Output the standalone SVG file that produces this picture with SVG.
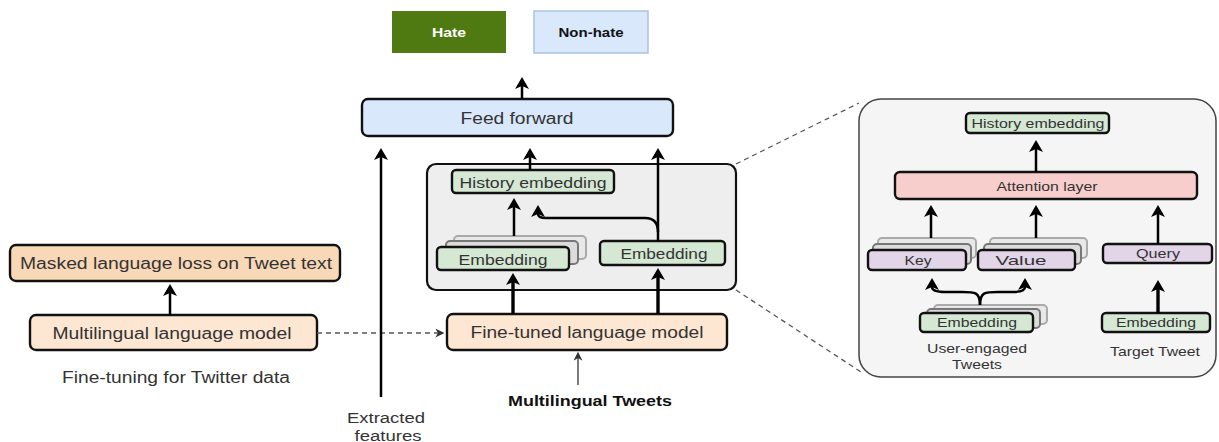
<svg xmlns="http://www.w3.org/2000/svg" width="1219" height="442" viewBox="0 0 1219 442">
  <style>
    text { font-family: "Liberation Sans", Arial, sans-serif; fill: #333; dominant-baseline: central; text-anchor: middle; }
    .box { stroke: #111; stroke-width: 2.4; }
    .peach { fill: #fde6d2; }
    .peach2 { fill: #f9d8b8; }
    .blue { fill: #dae8fc; }
    .green { fill: #d5e8d4; }
    .pink { fill: #f8cecc; }
    .purple { fill: #e1d5e7; }
    .back1 { fill: #dcdcdc; stroke: #777; stroke-width: 2; }
    .back2 { fill: #e8e8e8; stroke: #aaa; stroke-width: 2; }
    .arrow { fill: none; stroke: #000; stroke-width: 2.5; marker-end: url(#head); }
    .thick { stroke-width: 3.4; }
    .thin { fill: none; stroke: #333; stroke-width: 1.3; marker-end: url(#headSmall); }
    .dash { fill: none; stroke: #555; stroke-width: 1.3; stroke-dasharray: 5 4; }
    .lbl { font-size: 16px; }
    .mid { font-size: 15px; }
    .small { font-size: 13.5px; }
  </style>
  <defs>
    <marker id="head" viewBox="0 0 12 14" refX="3" refY="7" markerWidth="12" markerHeight="14" markerUnits="userSpaceOnUse" orient="auto">
      <path d="M0,0 L12,7 L0,14 L3,7 z" fill="#000"/>
    </marker>
    <marker id="headSmall" viewBox="0 0 10 10" refX="3" refY="5" markerWidth="9" markerHeight="9" markerUnits="userSpaceOnUse" orient="auto">
      <path d="M0,0 L10,5 L0,10 L3,5 z" fill="#333"/>
    </marker>
  </defs>

  <!-- output classes -->
  <g id="hate">
    <rect x="392" y="11" width="114" height="42" fill="#4f7a12"/>
    <text x="449" y="32" font-size="13.3" font-weight="bold" style="fill:#fff" textLength="34" lengthAdjust="spacingAndGlyphs">Hate</text>
  </g>
  <g id="non-hate">
    <rect x="534" y="11" width="114" height="42" fill="#dae8fc" stroke="#a9c3e3" stroke-width="1.5"/>
    <text x="591" y="32" font-size="13" font-weight="bold" style="fill:#111" textLength="65" lengthAdjust="spacingAndGlyphs">Non-hate</text>
  </g>

  <g id="feed-forward">
    <rect class="box blue" x="362" y="99" width="311" height="37" rx="6"/>
    <text class="lbl" x="517" y="118" textLength="113" lengthAdjust="spacingAndGlyphs">Feed forward</text>
  </g>

  <!-- user history encoder -->
  <g id="history-encoder">
    <rect x="427" y="164" width="309" height="126" rx="9" fill="#eeeeee" stroke="#111" stroke-width="2.2"/>
  </g>
  <g id="history-embedding">
    <rect class="box green" x="452" y="170" width="162" height="23" rx="4"/>
    <text class="mid" x="533" y="182" textLength="147" lengthAdjust="spacingAndGlyphs">History embedding</text>
  </g>
  <g id="history-tweet-embedding">
    <rect class="back2" x="454" y="236" width="132" height="23" rx="4"/>
    <rect class="back1" x="446" y="241" width="132" height="23" rx="4"/>
    <rect class="box green" x="437" y="247" width="132" height="23" rx="4"/>
    <text class="mid" x="503" y="259" textLength="89" lengthAdjust="spacingAndGlyphs">Embedding</text>
  </g>
  <g id="tweet-embedding">
    <rect class="box green" x="600" y="241" width="125" height="24" rx="4"/>
    <text class="mid" x="664" y="253.5" textLength="87" lengthAdjust="spacingAndGlyphs">Embedding</text>
  </g>

  <!-- language model fine-tuning -->
  <g id="masked-loss">
    <rect class="box peach2" x="10" y="245" width="330" height="36" rx="6"/>
    <text class="lbl" x="176" y="263" textLength="312" lengthAdjust="spacingAndGlyphs">Masked language loss on Tweet text</text>
  </g>
  <g id="multilingual-model">
    <rect class="box peach" x="30" y="315" width="287" height="35" rx="6"/>
    <text class="lbl" x="172" y="333" textLength="239" lengthAdjust="spacingAndGlyphs">Multilingual language model</text>
  </g>
  <text class="lbl" x="176" y="377" textLength="228" lengthAdjust="spacingAndGlyphs">Fine-tuning for Twitter data</text>

  <g id="fine-tuned-model">
    <rect class="box peach" x="447" y="314" width="280" height="36" rx="6"/>
    <text class="lbl" x="587" y="332" textLength="233" lengthAdjust="spacingAndGlyphs">Fine-tuned language model</text>
  </g>

  <g id="labels">
    <text x="386" y="417" font-size="15.5" textLength="78" lengthAdjust="spacingAndGlyphs">Extracted</text>
    <text x="388" y="435" font-size="15.5" textLength="67" lengthAdjust="spacingAndGlyphs">features</text>
    <text x="590" y="400" font-size="15" font-weight="bold" style="fill:#111" textLength="164" lengthAdjust="spacingAndGlyphs">Multilingual Tweets</text>
  </g>

  <!-- attention detail -->
  <g id="attention-panel">
    <rect x="859" y="99" width="357" height="278" rx="22" fill="#f5f5f5" stroke="#444" stroke-width="1.5"/>
  </g>
  <g id="panel-history-embedding">
    <rect class="box green" x="966" y="113" width="143" height="20" rx="4"/>
    <text class="small" x="1038" y="123" textLength="133" lengthAdjust="spacingAndGlyphs">History embedding</text>
  </g>
  <g id="attention-layer">
    <rect class="box pink" x="895" y="172" width="302" height="27" rx="5"/>
    <text class="small" x="1047" y="186" textLength="101" lengthAdjust="spacingAndGlyphs">Attention layer</text>
  </g>
  <g id="key">
    <rect class="back2" x="878" y="238" width="98" height="20" rx="4"/>
    <rect class="back1" x="873" y="244" width="98" height="20" rx="4"/>
    <rect class="box purple" x="868" y="250" width="98" height="20" rx="4"/>
    <text class="small" x="918" y="260" textLength="27" lengthAdjust="spacingAndGlyphs">Key</text>
  </g>
  <g id="value">
    <rect class="back2" x="990" y="238" width="97" height="20" rx="4"/>
    <rect class="back1" x="984" y="244" width="97" height="20" rx="4"/>
    <rect class="box purple" x="978" y="250" width="97" height="20" rx="4"/>
    <text class="small" x="1021" y="260" textLength="51" lengthAdjust="spacingAndGlyphs">Value</text>
  </g>
  <g id="query">
    <rect class="box purple" x="1103" y="244" width="109" height="19" rx="4"/>
    <text class="small" x="1158" y="253.5" textLength="44" lengthAdjust="spacingAndGlyphs">Query</text>
  </g>
  <g id="user-embedding">
    <rect class="back2" x="934" y="305" width="113" height="19" rx="4"/>
    <rect class="back1" x="927" y="309" width="113" height="19" rx="4"/>
    <rect class="box green" x="920" y="313" width="113" height="19" rx="4"/>
    <text class="small" x="977" y="322.5" textLength="80" lengthAdjust="spacingAndGlyphs">Embedding</text>
  </g>
  <g id="target-embedding">
    <rect class="box green" x="1102" y="313" width="108" height="19" rx="4"/>
    <text class="small" x="1156" y="322.5" textLength="80" lengthAdjust="spacingAndGlyphs">Embedding</text>
  </g>
  <g id="panel-labels">
    <text class="small" x="977" y="348" textLength="100" lengthAdjust="spacingAndGlyphs">User-engaged</text>
    <text class="small" x="977" y="364" textLength="50" lengthAdjust="spacingAndGlyphs">Tweets</text>
    <text class="small" x="1155" y="351" textLength="90" lengthAdjust="spacingAndGlyphs">Target Tweet</text>
  </g>

  <g id="connectors">
    <!-- fine-tuning branch -->
    <path class="arrow" d="M170,315 L170,293"/>
    <path class="dash" d="M317,333 L438,333" marker-end="url(#headSmall)"/>
    <!-- features into the classifier -->
    <path class="arrow" d="M381,397 L381,157"/>
    <path class="arrow" d="M522,99 L522,86"/>
    <path class="arrow" d="M530,170 L530,157"/>
    <path class="arrow" d="M658,241 L658,157"/>
    <path class="arrow" d="M658,232 Q658,218 645,218 L546,218 Q538,218 538,214"/>
    <path class="arrow" d="M514,236 L514,207"/>
    <path class="arrow thick" d="M513,314 L513,282"/>
    <path class="arrow thick" d="M658,314 L658,277"/>
    <path class="thin" d="M578,385 L578,358"/>
    <!-- zoom lines to the detail panel -->
    <path class="dash" d="M736,164 L859,103"/>
    <path class="dash" d="M736,290 L861,372"/>
    <!-- attention detail -->
    <path class="arrow" d="M1036,172 L1036,149"/>
    <path class="arrow" d="M931,238 L931,214"/>
    <path class="arrow" d="M1036,238 L1036,214"/>
    <path class="arrow" d="M1158,244 L1158,214"/>
    <path class="arrow" d="M980,305 C980,292 975,292 962,292 L945,292 C935,292 932,290 932,287"/>
    <path class="arrow" d="M980,305 C980,292 985,292 998,292 L1012,292 C1022,292 1025,290 1025,287"/>
    <path class="arrow thick" d="M1158,313 L1158,289"/>
  </g>
</svg>
